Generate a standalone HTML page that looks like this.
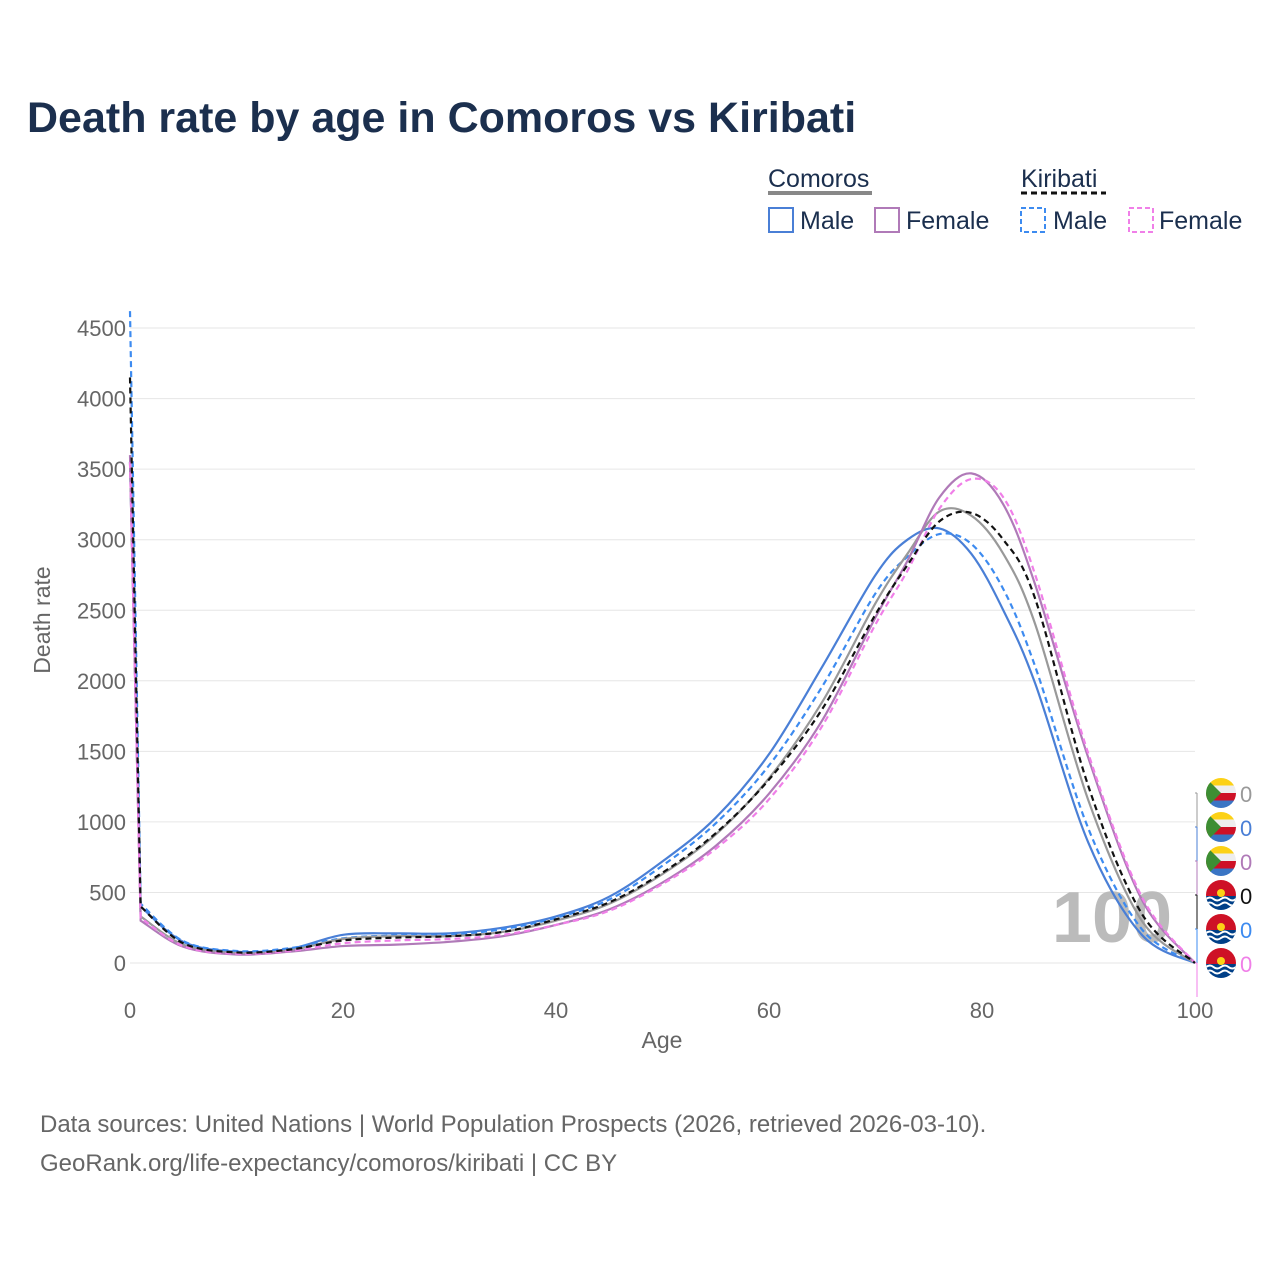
<!DOCTYPE html>
<html><head><meta charset="utf-8"><style>
body{margin:0;background:#fff;font-family:"Liberation Sans",sans-serif}
#wrap{position:relative;width:1280px;height:1280px;overflow:hidden}
</style></head><body>
<div id="wrap">
<svg id="svg" width="1280" height="1280" style="font-family:'Liberation Sans',sans-serif">
<text x="27" y="132" font-size="43" font-weight="bold" fill="#1b2f4e">Death rate by age in Comoros vs Kiribati</text>
<g font-size="25" fill="#1b2f4e">
<text x="768" y="187">Comoros</text>
<line x1="768" y1="193" x2="872" y2="193" stroke="#888" stroke-width="4"/>
<text x="1021" y="187">Kiribati</text>
<line x1="1021" y1="193" x2="1106" y2="193" stroke="#111" stroke-width="3" stroke-dasharray="6,4"/>
<rect x="769" y="208" width="24" height="24" fill="none" stroke="#4a7fd6" stroke-width="2"/>
<text x="800" y="229">Male</text>
<rect x="875" y="208" width="24" height="24" fill="none" stroke="#b07ab8" stroke-width="2"/>
<text x="906" y="229">Female</text>
<rect x="1021" y="208" width="24" height="24" fill="none" stroke="#3d8bf0" stroke-width="2" stroke-dasharray="5,3"/>
<text x="1053" y="229">Male</text>
<rect x="1129" y="208" width="24" height="24" fill="none" stroke="#f07fe8" stroke-width="2" stroke-dasharray="5,3"/>
<text x="1159" y="229">Female</text>
</g>
<g id="grid"></g>
<text x="1112" y="942" font-size="72" font-weight="bold" fill="#bbb" text-anchor="middle">100</text>
<g id="series"></g>
<g id="flags"></g>
<text x="662" y="1048" font-size="23" fill="#666" text-anchor="middle">Age</text>
<text transform="translate(50,620) rotate(-90)" font-size="23" fill="#666" text-anchor="middle">Death rate</text>
<text x="40" y="1132" font-size="24" fill="#666">Data sources: United Nations | World Population Prospects (2026, retrieved 2026-03-10).</text>
<text x="40" y="1171" font-size="24" fill="#666">GeoRank.org/life-expectancy/comoros/kiribati | CC BY</text>
</svg>
</div>
<script>
const ages=[0,1,5,10,15,20,25,30,35,40,45,50,55,60,65,70,73,76,79,82,85,90,95,100];
const comorosMale=[3550,400,150,80,100,200,210,210,250,330,470,720,1030,1480,2100,2750,3000,3080,2900,2500,1980,850,200,0];
const kiribatiMale=[4620,420,155,85,105,175,195,200,240,320,450,690,990,1400,1960,2620,2880,3040,2970,2650,2100,950,240,0];
const comorosTotal=[3550,330,130,70,90,170,190,190,220,300,420,630,910,1310,1850,2550,2900,3200,3170,2900,2400,1150,300,0];
const kiribatiTotal=[4150,400,140,75,95,160,180,190,220,310,430,640,920,1300,1800,2470,2820,3130,3190,3000,2580,1250,350,0];
const comorosFemale=[3600,300,115,60,80,120,130,150,190,270,380,570,830,1200,1720,2450,2850,3300,3470,3250,2680,1450,450,0];
const kiribatiFemale=[3550,320,120,65,85,140,160,170,200,270,370,560,810,1160,1680,2400,2780,3220,3430,3300,2750,1480,470,0];
const yTicks=[0,500,1000,1500,2000,2500,3000,3500,4000,4500];
const xTicks=[0,20,40,60,80,100];
const X=a=>130+a*10.65, Y=v=>963-v*0.1411;
const NS='http://www.w3.org/2000/svg';
function mk(t,at,p){const e=document.createElementNS(NS,t);for(const k in at)e.setAttribute(k,at[k]);p.appendChild(e);return e;}
const grid=document.getElementById('grid');
yTicks.forEach(v=>{const l=mk('line',{x1:130,x2:1195,y1:Y(v),y2:Y(v),stroke:'#e6e6e6','stroke-width':1},grid);


const t=mk('text',{x:126,y:Y(v)+8,'text-anchor':'end','font-size':22,fill:'#666'},grid);t.textContent=v;

});
xTicks.forEach(a=>{const t=mk('text',{x:X(a),y:1018,'text-anchor':'middle','font-size':22,fill:'#666'},grid);t.textContent=a;

});
function path(vals){const p=ages.map((a,i)=>[X(a),Y(vals[i])]);let d='M'+p[0][0]+','+p[0][1]+' L'+p[1][0]+','+p[1][1];
for(let i=1;i<p.length-1;i++){const p0=p[i-1<1?1:i-1],p1=p[i],p2=p[i+1],p3=p[i+2]||p2;
const c1=[p1[0]+(p2[0]-p0[0])/6,p1[1]+(p2[1]-p0[1])/6],c2=[p2[0]-(p3[0]-p1[0])/6,p2[1]-(p3[1]-p1[1])/6];
d+=' C'+c1+' '+c2+' '+p2;}return d;}
const ser=document.getElementById('series');
const S=[[comorosMale,'#4a7fd6','', 'line-comoros-male'],[kiribatiMale,'#3d8bf0','6,4','line-kiribati-male'],[comorosTotal,'#999','','line-comoros-total'],[comorosFemale,'#b07ab8','','line-comoros-female'],[kiribatiFemale,'#f07fe8','6,4','line-kiribati-female'],[kiribatiTotal,'#111','6,4','line-kiribati-total']];
S.forEach(s=>{const e=mk('path',{d:path(s[0]),fill:'none',stroke:s[1],'stroke-width':2.2,'stroke-dasharray':s[2]},ser);

});
const fl=document.getElementById('flags');
const F=[['#999','c'],['#4a7fd6','c'],['#b07ab8','c'],['#111','k'],['#3d8bf0','k'],['#f07fe8','k']];
F.forEach((f,i)=>{const y=793+i*34;
mk('path',{d:`M1197,${y} h-2 M1197,${y} V${y+34}`,stroke:f[0],fill:'none'},fl);
const g=mk('g',{},fl);


const cx=1221,r=15;
mk('clipPath',{id:'cp'+i},g).appendChild(document.createElementNS(NS,'circle')).setAttribute('cx',cx);
const c=g.querySelector('circle');c.setAttribute('cy',y);c.setAttribute('r',r);
const h=mk('g',{'clip-path':`url(#cp${i})`},g);
if(f[1]=='c'){['#fcd116','#eee','#ce1126','#3a75c4'].forEach((col,j)=>mk('rect',{x:cx-r,y:y-r+j*7.5,width:30,height:7.6,fill:col},h));
mk('polygon',{points:`${cx-r},${y-r} ${cx},${y} ${cx-r},${y+r}`,fill:'#3d8e33'},h);}
else{mk('rect',{x:cx-r,y:y-r,width:30,height:16,fill:'#ce1126'},h);mk('rect',{x:cx-r,y:y+1,width:30,height:14,fill:'#003f87'},h);
[4,9].forEach(o=>mk('path',{d:`M${cx-r},${y+o} q4,-3 7.5,0 t7.5,0 t7.5,0 t7.5,0`,stroke:'#fff','stroke-width':2,fill:'none'},h));
mk('circle',{cx:cx,cy:y-2,r:4,fill:'#fcd116'},h);}
const t=mk('text',{x:1240,y:y+9,'font-size':22,fill:f[0]},fl);t.textContent='0';

});
</script>
</body></html>
